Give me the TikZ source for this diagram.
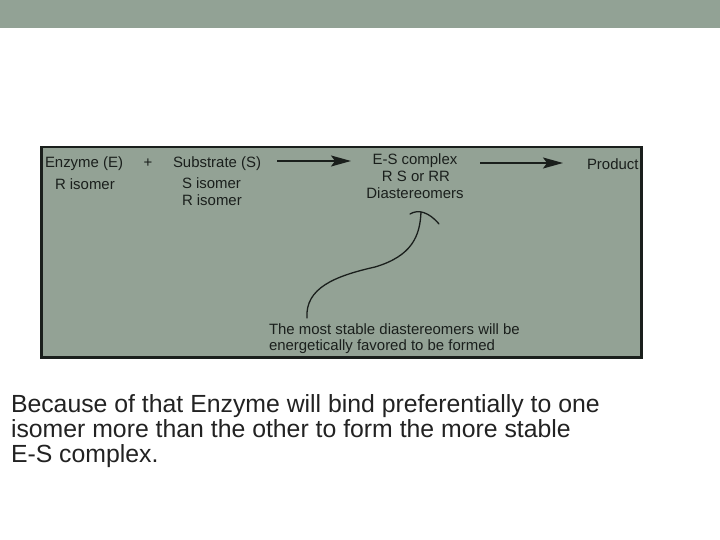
\documentclass[tikz,border=0pt]{standalone}
\usepackage{fontspec}
\setmainfont{Liberation Sans}
\usetikzlibrary{arrows.meta}
\definecolor{sage}{HTML}{92A295}
\definecolor{boxfill}{HTML}{93A295}
\definecolor{ink}{HTML}{1A1F1C}
\definecolor{txt}{HTML}{222222}
\tikzset{
  lbl/.style={inner sep=0pt, outer sep=0pt, text=ink, font=\fontsize{15}{17}\selectfont},
  big/.style={inner sep=0pt, outer sep=0pt, text=txt, anchor=base west, font=\fontsize{24.9}{25}\selectfont},
  rxn/.style={line width=1.5bp, draw=ink, -{Stealth[length=20bp,width=11bp,inset=4bp]}},
  hook/.style={line width=1.3bp, draw=ink, line cap=round}
}
\begin{document}
\begin{tikzpicture}[x=1bp,y=-1bp]
\useasboundingbox (0,0) rectangle (720,540);
\fill[sage] (0,0) rectangle (720,28);
\draw[ink, fill=boxfill, line width=2.6bp] (41.5,147) rectangle (641.5,357.5);
% top row
\node[lbl, anchor=base west] (enz) at (45,168) {Enzyme (E)};
\node[lbl, anchor=base] (plus) at (148,168) {+};
\node[lbl, anchor=base west] (sub) at (173,168) {Substrate (S)};
\node[lbl, anchor=base west] (risoE) at (55,190) {R isomer};
\node[lbl, anchor=base west] (sisoS) at (182,189) {S isomer};
\node[lbl, anchor=base west] (risoS) at (182,206) {R isomer};
\node[lbl, anchor=base] (es) at (415,165) {E-S complex};
\node[lbl, anchor=base] (rsrr) at (416,182) {R S or RR};
\node[lbl, anchor=base] (dia) at (415,199) {Diastereomers};
\node[lbl, anchor=base west] (prod) at (587,170) {Product};
\node[lbl, anchor=base west] (note1) at (269,334) {The most stable diastereomers will be};
\node[lbl, anchor=base west] (note2) at (269,350) {energetically favored to be formed};
% arrows
\coordinate (a1s) at (277,161);
\coordinate (a1e) at (351,161);
\coordinate (a2s) at (480,163);
\coordinate (a2e) at (563,163);
\draw[rxn] (a1s) -- (a1e);
\draw[rxn] (a2s) -- (a2e);
% curved pointer
\coordinate (cs) at (307,318);
\coordinate (cm) at (375,267);
\coordinate (ce) at (421,212);
\draw[hook] (cs) .. controls (305,288) and (335,276) .. (cm)
               .. controls (412,256) and (420,236) .. (ce);
\draw[hook] (410,214) .. controls (418,209) and (429,212) .. (439,224);
% caption
\node[big] (cap1) at (11,412) {Because of that Enzyme will bind preferentially to one};
\node[big] (cap2) at (11,437.5) {isomer more than the other to form the more stable};
\node[big] (cap3) at (11,462.5) {E-S complex.};
\end{tikzpicture}
\end{document}
